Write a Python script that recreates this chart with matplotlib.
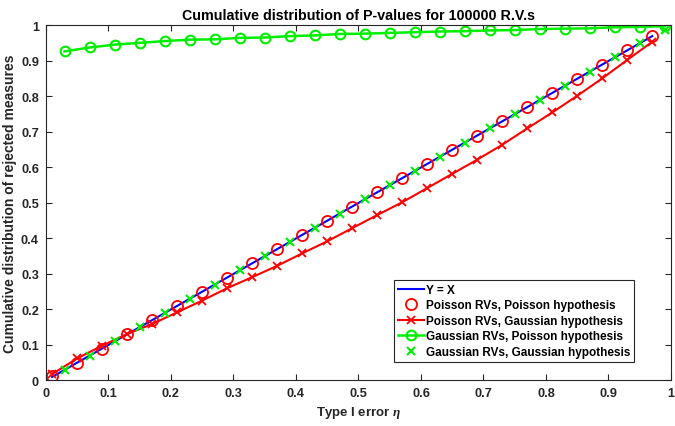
import matplotlib
matplotlib.use("Agg")
import matplotlib.pyplot as plt

plt.rcParams['font.family'] = ['Liberation Sans', 'DejaVu Sans']
plt.rcParams['font.weight'] = 'bold'
plt.rcParams['mathtext.fontset'] = 'custom'
plt.rcParams['mathtext.it'] = 'Liberation Serif:italic'

# Y = X reference line
ref_x = [0.01, 0.97]
ref_y = [0.01, 0.97]

# Poisson RVs (x = 0.01 .. 0.97)
pois_x = [0.01, 0.05, 0.09, 0.13, 0.17, 0.21, 0.25, 0.29, 0.33, 0.37, 0.41, 0.45, 0.49,
          0.53, 0.57, 0.61, 0.65, 0.69, 0.73, 0.77, 0.81, 0.85, 0.89, 0.93, 0.97]
pois_pois = [0.012, 0.050, 0.089, 0.130, 0.170, 0.210, 0.250, 0.290, 0.330, 0.370, 0.410,
             0.450, 0.490, 0.530, 0.570, 0.610, 0.650, 0.690, 0.730, 0.770, 0.810, 0.850,
             0.890, 0.930, 0.970]
pois_gaus = [0.018, 0.062, 0.098, 0.131, 0.159, 0.192, 0.225, 0.260, 0.291, 0.323, 0.358,
             0.392, 0.429, 0.466, 0.502, 0.542, 0.582, 0.622, 0.664, 0.710, 0.755, 0.802,
             0.851, 0.903, 0.954]

# Gaussian RVs (x = 0.03 .. 0.99)
gaus_x = [0.03, 0.07, 0.11, 0.15, 0.19, 0.23, 0.27, 0.31, 0.35, 0.39, 0.43, 0.47, 0.51,
          0.55, 0.59, 0.63, 0.67, 0.71, 0.75, 0.79, 0.83, 0.87, 0.91, 0.95, 0.99]
gaus_pois = [0.927, 0.938, 0.946, 0.951, 0.956, 0.960, 0.961, 0.965, 0.966, 0.970, 0.972,
             0.976, 0.977, 0.979, 0.981, 0.983, 0.984, 0.986, 0.987, 0.990, 0.991, 0.992,
             0.995, 0.996, 0.998]
gaus_gaus = [0.030, 0.070, 0.110, 0.150, 0.190, 0.230, 0.270, 0.310, 0.350, 0.390, 0.430,
             0.470, 0.510, 0.550, 0.590, 0.630, 0.670, 0.710, 0.750, 0.790, 0.830, 0.870,
             0.910, 0.950, 0.988]

fig = plt.figure(figsize=(6.75, 4.27), dpi=100)
ax = fig.add_axes([0.0679, 0.1066, 0.9262, 0.8314])

ax.plot(ref_x, ref_y, color='blue', lw=1.5, label='Y = X')
ax.plot(pois_x, pois_pois, 'o', color='red', ms=8, mfc='none', mew=1.3,
        label='Poisson RVs, Poisson hypothesis')
ax.plot(pois_x, pois_gaus, '-x', color='red', lw=1.5, ms=6, mew=1.3,
        label='Poisson RVs, Gaussian hypothesis')
ax.plot(gaus_x, gaus_pois, '-o', color='#00ee00', lw=1.8, ms=7, mfc='none', mew=1.5,
        label='Gaussian RVs, Poisson hypothesis')
ax.plot(gaus_x, gaus_gaus, 'x', color='#00ee00', ms=6, mew=1.5,
        label='Gaussian RVs, Gaussian hypothesis')

ax.set_xlim(0, 1)
ax.set_ylim(0, 1)
ax.set_xticks([0, 0.1, 0.2, 0.3, 0.4, 0.5, 0.6, 0.7, 0.8, 0.9, 1])
ax.set_xticklabels(['0', '0.1', '0.2', '0.3', '0.4', '0.5', '0.6', '0.7', '0.8', '0.9', '1'])
ax.set_yticks([0, 0.1, 0.2, 0.3, 0.4, 0.5, 0.6, 0.7, 0.8, 0.9, 1])
ax.set_yticklabels(['0', '0.1', '0.2', '0.3', '0.4', '0.5', '0.6', '0.7', '0.8', '0.9', '1'])
ax.tick_params(direction='in', top=True, right=True, length=4, width=0.8,
               colors='#262626', labelsize=9.2, pad=5)
for s in ax.spines.values():
    s.set_color('#262626')
    s.set_linewidth(0.8)

ax.set_title('Cumulative distribution of P-values for 100000 R.V.s',
             fontsize=10.3, fontweight='bold', pad=5)
ax.set_xlabel('Type I error $\\eta$', fontsize=9.5, fontweight='bold', color='#262626',
              labelpad=3)
ax.set_ylabel('Cumulative distribution of rejected measures', fontsize=10,
              fontweight='bold', color='#262626', labelpad=3)

leg = ax.legend(loc='lower right', bbox_to_anchor=(0.951, 0.035), fontsize=8.5,
                handlelength=2.2, borderpad=0.35, labelspacing=0.3, handletextpad=0.2,
                framealpha=1, fancybox=False, edgecolor='#262626')
leg.get_frame().set_linewidth(0.8)

fig.savefig('out.png', dpi=100)
